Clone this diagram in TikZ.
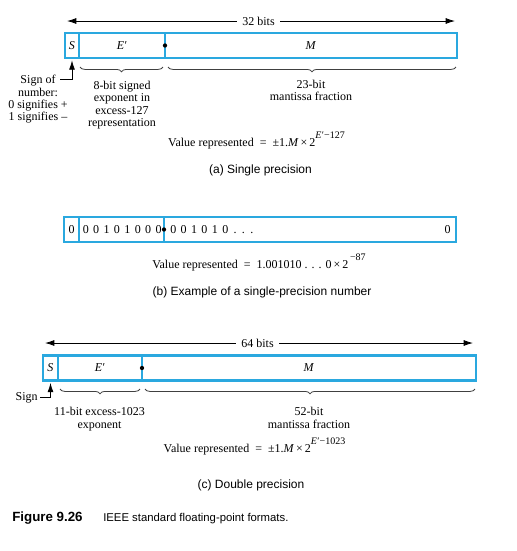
\documentclass[tikz,border=0pt]{standalone}
\usepackage{fontspec}
\setmainfont{Liberation Serif}
\setsansfont{Liberation Sans}
\usetikzlibrary{decorations.pathreplacing,arrows.meta}
\definecolor{boxblue}{HTML}{2AA8DF}
\newcommand\primE{\textit{E}\kern0.3pt′}
\newcommand\supr[1]{\raisebox{6pt}{\fontsize{7.5}{7.5}\selectfont #1}}
\begin{document}
\begin{tikzpicture}[x=0.75pt,y=-0.75pt,
  lbl/.style={font=\fontsize{9}{9.3}\selectfont, inner sep=0pt, align=center},
  captxt/.style={font=\sffamily\fontsize{9}{11}\selectfont, inner sep=0pt},
  bitlbl/.style={font=\fontsize{9}{11}\selectfont, inner xsep=4pt, inner ysep=0pt},
  field/.style={draw=boxblue, line width=1.1pt, inner sep=0pt, outer sep=0pt,
     minimum height=25*0.75pt, anchor=west, font=\fontsize{9}{11}\selectfont},
  outerbox/.style={draw=boxblue, line width=2.2pt},
  brc/.style={decorate, decoration={brace, mirror, amplitude=3.6pt}, draw=black!75, line width=0.6pt},
  arr/.style={-{Latex[length=7pt,width=4.5pt]}, line width=0.6pt},
  dotfill/.style={fill=black},
]
\useasboundingbox (0,0) rectangle (517,551);

% ---------------- (a) single precision
\node[field, minimum width=14*0.75pt] (aS) at (65,45.5) {\textit{S}};
\node[field, minimum width=86*0.75pt] (aE) at (aS.east) {\primE};
\node[field, minimum width=292*0.75pt] (aM) at (aE.east) {\textit{M}};
\draw[outerbox] (aS.north west) rectangle (aM.south east);
\fill[dotfill] (aE.east) circle[radius=1.6pt];

\node[bitlbl] (a32) at (258.5,21) {32 bits};
\coordinate (a32l) at (67,21);
\coordinate (a32r) at (455,21);
\draw[arr] (a32.west) -- (a32l);
\draw[arr] (a32.east) -- (a32r);

\coordinate (aEb1) at (80,67);  \coordinate (aEb2) at (163,67);
\coordinate (aMb1) at (168,67); \coordinate (aMb2) at (456,67);
\draw[brc] (aEb1) -- (aEb2);
\draw[brc] (aMb1) -- (aMb2);

\node[lbl, anchor=north] (asign) at (38,75) {Sign of\\number:\\0 signifies +\\1 signifies –};
\coordinate (asl) at (60,79);
\draw[arr, shorten >=1.8pt] (asl) -| (aS.south);

\node[lbl, anchor=north] (aexp) at (122,81) {8-bit signed\\exponent in\\excess-127\\representation};
\node[lbl, anchor=north] (aman) at (311,80) {23-bit\\mantissa fraction};

\node[lbl, anchor=base] (aval) at (256.5,146) {Value represented\enspace=\enspace ±1.\textit{M}\,×\,2\supr{\primE−127}};
\node[captxt, anchor=base] (acap) at (260.5,173) {(a) Single precision};

% ---------------- (b) example
\node[field, minimum width=15*0.75pt] (bS) at (64,229.5) {0};
\node[field, minimum width=85*0.75pt] (bE) at (bS.east) {};
\node[field, minimum width=292*0.75pt] (bM) at (bE.east) {};
\draw[outerbox] (bS.north west) rectangle (bM.south east);
\fill[dotfill] (bE.east) circle[radius=1.6pt];
\node[lbl, anchor=west] (bEt) at (82.5,229.5) {\spaceskip=3.3pt\relax 0 0 1 0 1 0 0 0};
\node[lbl, anchor=west] (bMt) at (170,229.5) {\spaceskip=3.3pt\relax 0 0 1 0 1 0\hspace{4pt}. . .};
\node[lbl, anchor=east] (bMe) at (451,229.5) {0};

\node[lbl, anchor=base] (bval) at (259,268) {Value represented\enspace=\enspace 1.001010 . . . 0\,×\,2\supr{\,−87}};
\node[captxt, anchor=base] (bcap) at (262,295) {(b) Example of a single-precision number};

% ---------------- (c) double precision
\node[field, minimum width=15*0.75pt] (cS) at (43,368) {\textit{S}};
\node[field, minimum width=84*0.75pt] (cE) at (cS.east) {\primE};
\node[field, minimum width=334*0.75pt] (cM) at (cE.east) {\textit{M}};
\draw[outerbox] (cS.north west) rectangle (cM.south east);
\fill[dotfill] (cE.east) circle[radius=1.6pt];

\node[bitlbl] (c64) at (257.5,343) {64 bits};
\coordinate (c64l) at (45,343);
\coordinate (c64r) at (473,343);
\draw[arr] (c64.west) -- (c64l);
\draw[arr] (c64.east) -- (c64r);

\coordinate (cEb1) at (60,389);  \coordinate (cEb2) at (140,389);
\coordinate (cMb1) at (145,389); \coordinate (cMb2) at (475,389);
\draw[brc] (cEb1) -- (cEb2);
\draw[brc] (cMb1) -- (cMb2);

\node[lbl, anchor=base east] (csign) at (38,400) {Sign};
\coordinate (csl) at (40,397);
\draw[arr, shorten >=1.8pt] (csl) -| (cS.south);

\node[lbl, anchor=north] (cexp) at (99.5,407) {11-bit excess-1023\\exponent};
\node[lbl, anchor=north] (cman) at (309,407) {52-bit\\mantissa fraction};

\node[lbl, anchor=base] (cval) at (254.5,452) {Value represented\enspace=\enspace ±1.\textit{M}\,×\,2\supr{\primE−1023}};
\node[captxt, anchor=base] (ccap) at (251,488) {(c) Double precision};

% ---------------- figure caption
\node[inner sep=0pt, anchor=base west, font=\sffamily\bfseries\fontsize{10}{11}\selectfont] (fig) at (12,521) {Figure 9.26};
\node[inner sep=0pt, anchor=base west, font=\sffamily\fontsize{8.5}{11}\selectfont] (figt) at (103,521) {IEEE standard floating-point formats.};
\end{tikzpicture}
\end{document}
